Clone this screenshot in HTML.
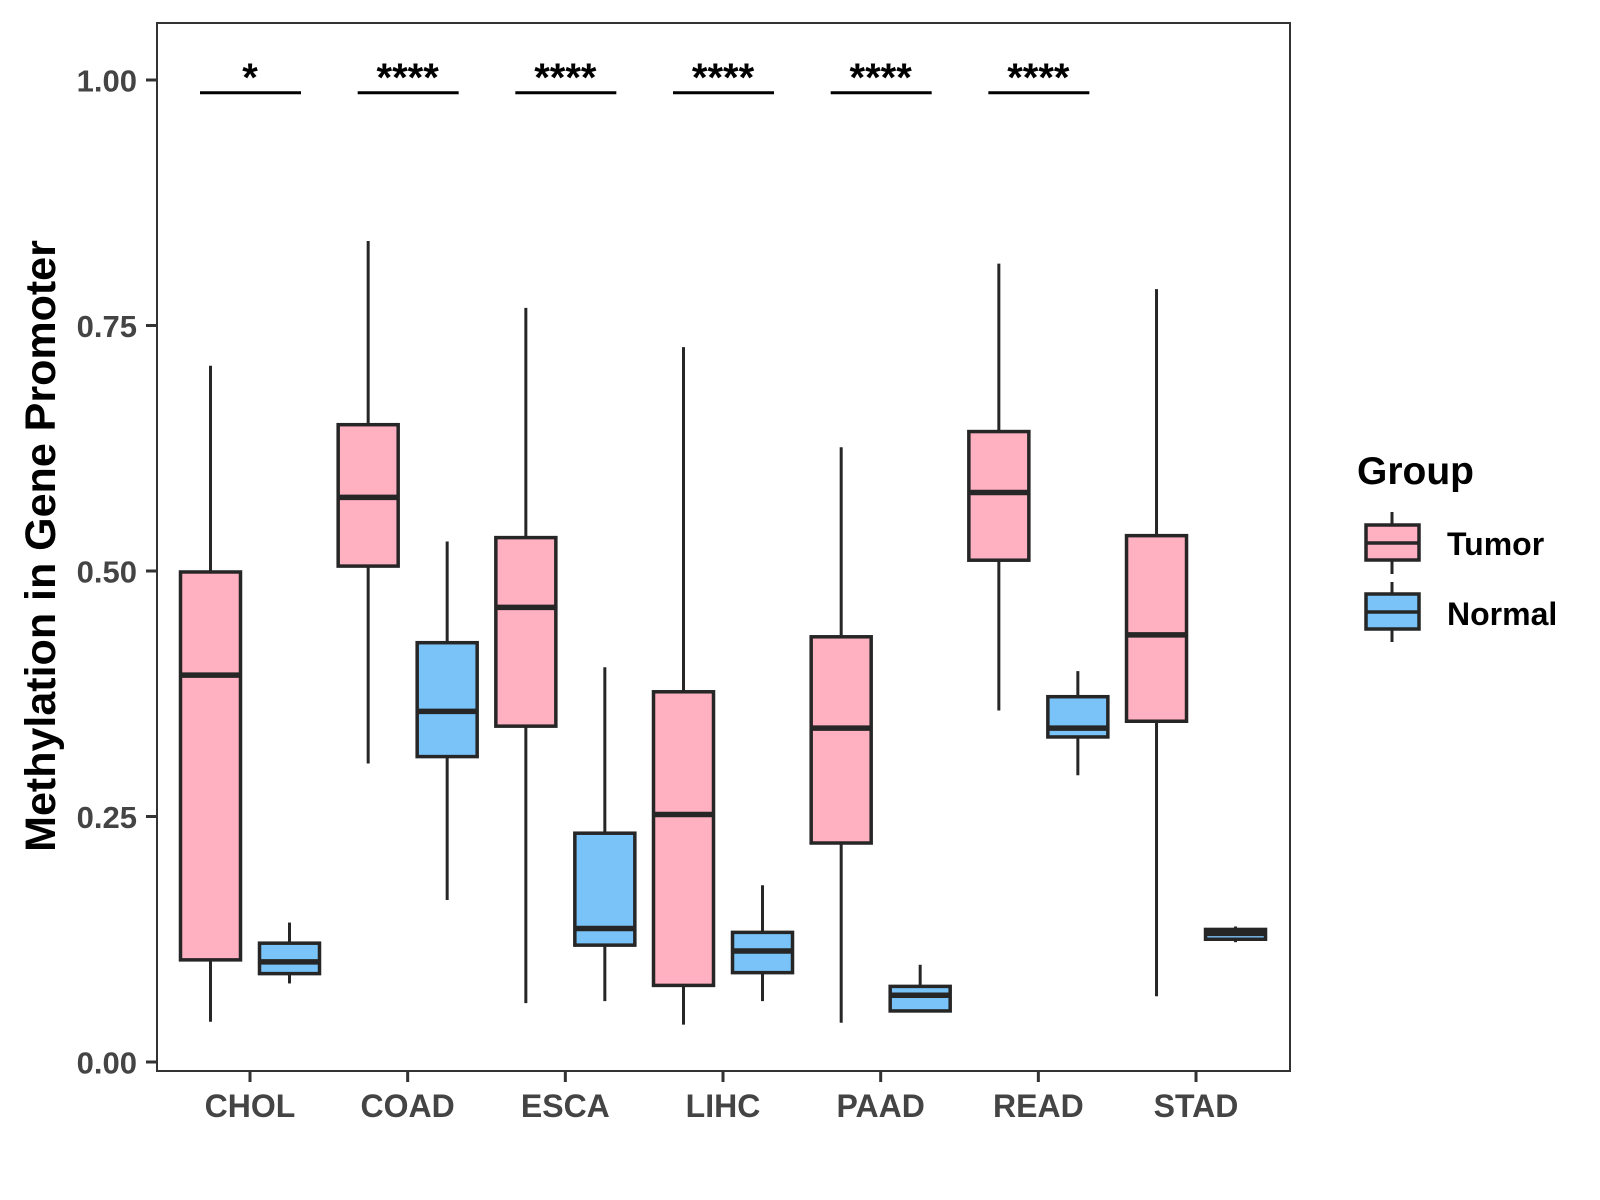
<!DOCTYPE html>
<html><head><meta charset="utf-8"><style>
body{margin:0;background:#fff;}
svg{display:block;font-family:"Liberation Sans",Arial,sans-serif;}
</style></head><body>
<svg id="chart" width="1600" height="1200" viewBox="0 0 1600 1200">
<rect x="0" y="0" width="1600" height="1200" fill="#fff"/>
<g id="marks"></g>
<rect x="157" y="23" width="1133" height="1048" fill="none" stroke="#333" stroke-width="2"/>
<g id="axes"></g>
<text x="41" y="546" transform="rotate(-90 41 546)" text-anchor="middle" dominant-baseline="central" font-size="43" font-weight="bold" fill="#000">Methylation in Gene Promoter</text>
<g>
<text x="1357" y="484" font-size="39" font-weight="bold" fill="#000">Group</text>
<g>
<line x1="1392" y1="512" x2="1392" y2="574" stroke="#262626" stroke-width="3"/>
<rect x="1366" y="525" width="53" height="35" fill="#FFB0C1" stroke="#262626" stroke-width="3.5"/>
<line x1="1366" y1="543" x2="1419" y2="543" stroke="#262626" stroke-width="3.5"/>
<text x="1447" y="544" dominant-baseline="central" font-size="32" font-weight="bold" fill="#000">Tumor</text>
</g>
<g>
<line x1="1392" y1="582" x2="1392" y2="642" stroke="#262626" stroke-width="3"/>
<rect x="1366" y="594" width="53" height="35" fill="#79C3F8" stroke="#262626" stroke-width="3.5"/>
<line x1="1366" y1="612" x2="1419" y2="612" stroke="#262626" stroke-width="3.5"/>
<text x="1447" y="614" dominant-baseline="central" font-size="32" font-weight="bold" fill="#000">Normal</text>
</g>
</g>
</svg>
<script>
const categories = ["CHOL","COAD","ESCA","LIHC","PAAD","READ","STAD"];
// [lower whisker, q1, median, q3, upper whisker]
const tumorStats = [
 [0.041,0.104,0.394,0.499,0.709],
 [0.304,0.505,0.575,0.649,0.836],
 [0.060,0.342,0.463,0.534,0.768],
 [0.038,0.078,0.252,0.377,0.728],
 [0.040,0.223,0.340,0.433,0.626],
 [0.358,0.511,0.580,0.642,0.813],
 [0.067,0.347,0.435,0.536,0.787]
];
const normalStats = [
 [0.080,0.090,0.102,0.121,0.142],
 [0.165,0.311,0.357,0.427,0.530],
 [0.062,0.119,0.136,0.233,0.402],
 [0.062,0.091,0.113,0.132,0.180],
 [0.052,0.052,0.068,0.077,0.099],
 [0.292,0.331,0.340,0.372,0.398],
 [0.122,0.125,0.131,0.135,0.138]
];
const sigLabels = ["*","****","****","****","****","****",""];
const yTicks = [0,0.25,0.5,0.75,1.0];
const yTickLabels = ["0.00","0.25","0.50","0.75","1.00"];
const sigLevel = 0.987;

const NS="http://www.w3.org/2000/svg";
function yS(v){return 1062 - v*982;}
function xS(i){return 250 + i*157.67;}
function mk(tag,attrs,parent){const e=document.createElementNS(NS,tag);for(const k in attrs)e.setAttribute(k,attrs[k]);parent.appendChild(e);return e;}
const marks=document.getElementById('marks');
const axes=document.getElementById('axes');
const W=60, OFF=39.5;
function drawBox(s,cx,fill,name){
  const g=mk('g',{},marks);
  
  
  mk('line',{x1:cx,x2:cx,y1:yS(s[4]),y2:yS(s[0]),stroke:'#262626','stroke-width':3},g);
  mk('rect',{x:cx-W/2,y:yS(s[3]),width:W,height:Math.max(yS(s[1])-yS(s[3]),1),fill:fill,stroke:'#262626','stroke-width':3.5},g);
  mk('line',{x1:cx-W/2,x2:cx+W/2,y1:yS(s[2]),y2:yS(s[2]),stroke:'#262626','stroke-width':5.5},g);
}
categories.forEach((c,i)=>{
  const cx=xS(i);
  drawBox(tumorStats[i],cx-OFF,'#FFB0C1','box-tumor-'+c.toLowerCase());
  drawBox(normalStats[i],cx+OFF,'#79C3F8','box-normal-'+c.toLowerCase());
  if(sigLabels[i]){
    const l=mk('line',{x1:cx-50,x2:cx+51,y1:yS(sigLevel),y2:yS(sigLevel),stroke:'#000','stroke-width':3},marks);
    
    
    const t=mk('text',{x:cx,y:yS(sigLevel)-2,'text-anchor':'middle','font-size':40,'font-weight':'bold',fill:'#000'},marks);
    t.textContent=sigLabels[i];
    
    
  }
  const tk=mk('line',{x1:cx,x2:cx,y1:1071,y2:1082,stroke:'#333','stroke-width':3},axes);
  
  
  const lb=mk('text',{x:cx,y:1117,'text-anchor':'middle','font-size':32,'font-weight':'bold',fill:'#444'},axes);
  lb.textContent=c;
  
  
});
yTicks.forEach((v,i)=>{
  const tk=mk('line',{x1:146,x2:157,y1:yS(v),y2:yS(v),stroke:'#333','stroke-width':3},axes);
  
  
  const lb=mk('text',{x:137,y:yS(v)+1,'text-anchor':'end','dominant-baseline':'central','font-size':31,'font-weight':'bold',fill:'#444'},axes);
  lb.textContent=yTickLabels[i];
  
  
});
</script>
</body></html>
